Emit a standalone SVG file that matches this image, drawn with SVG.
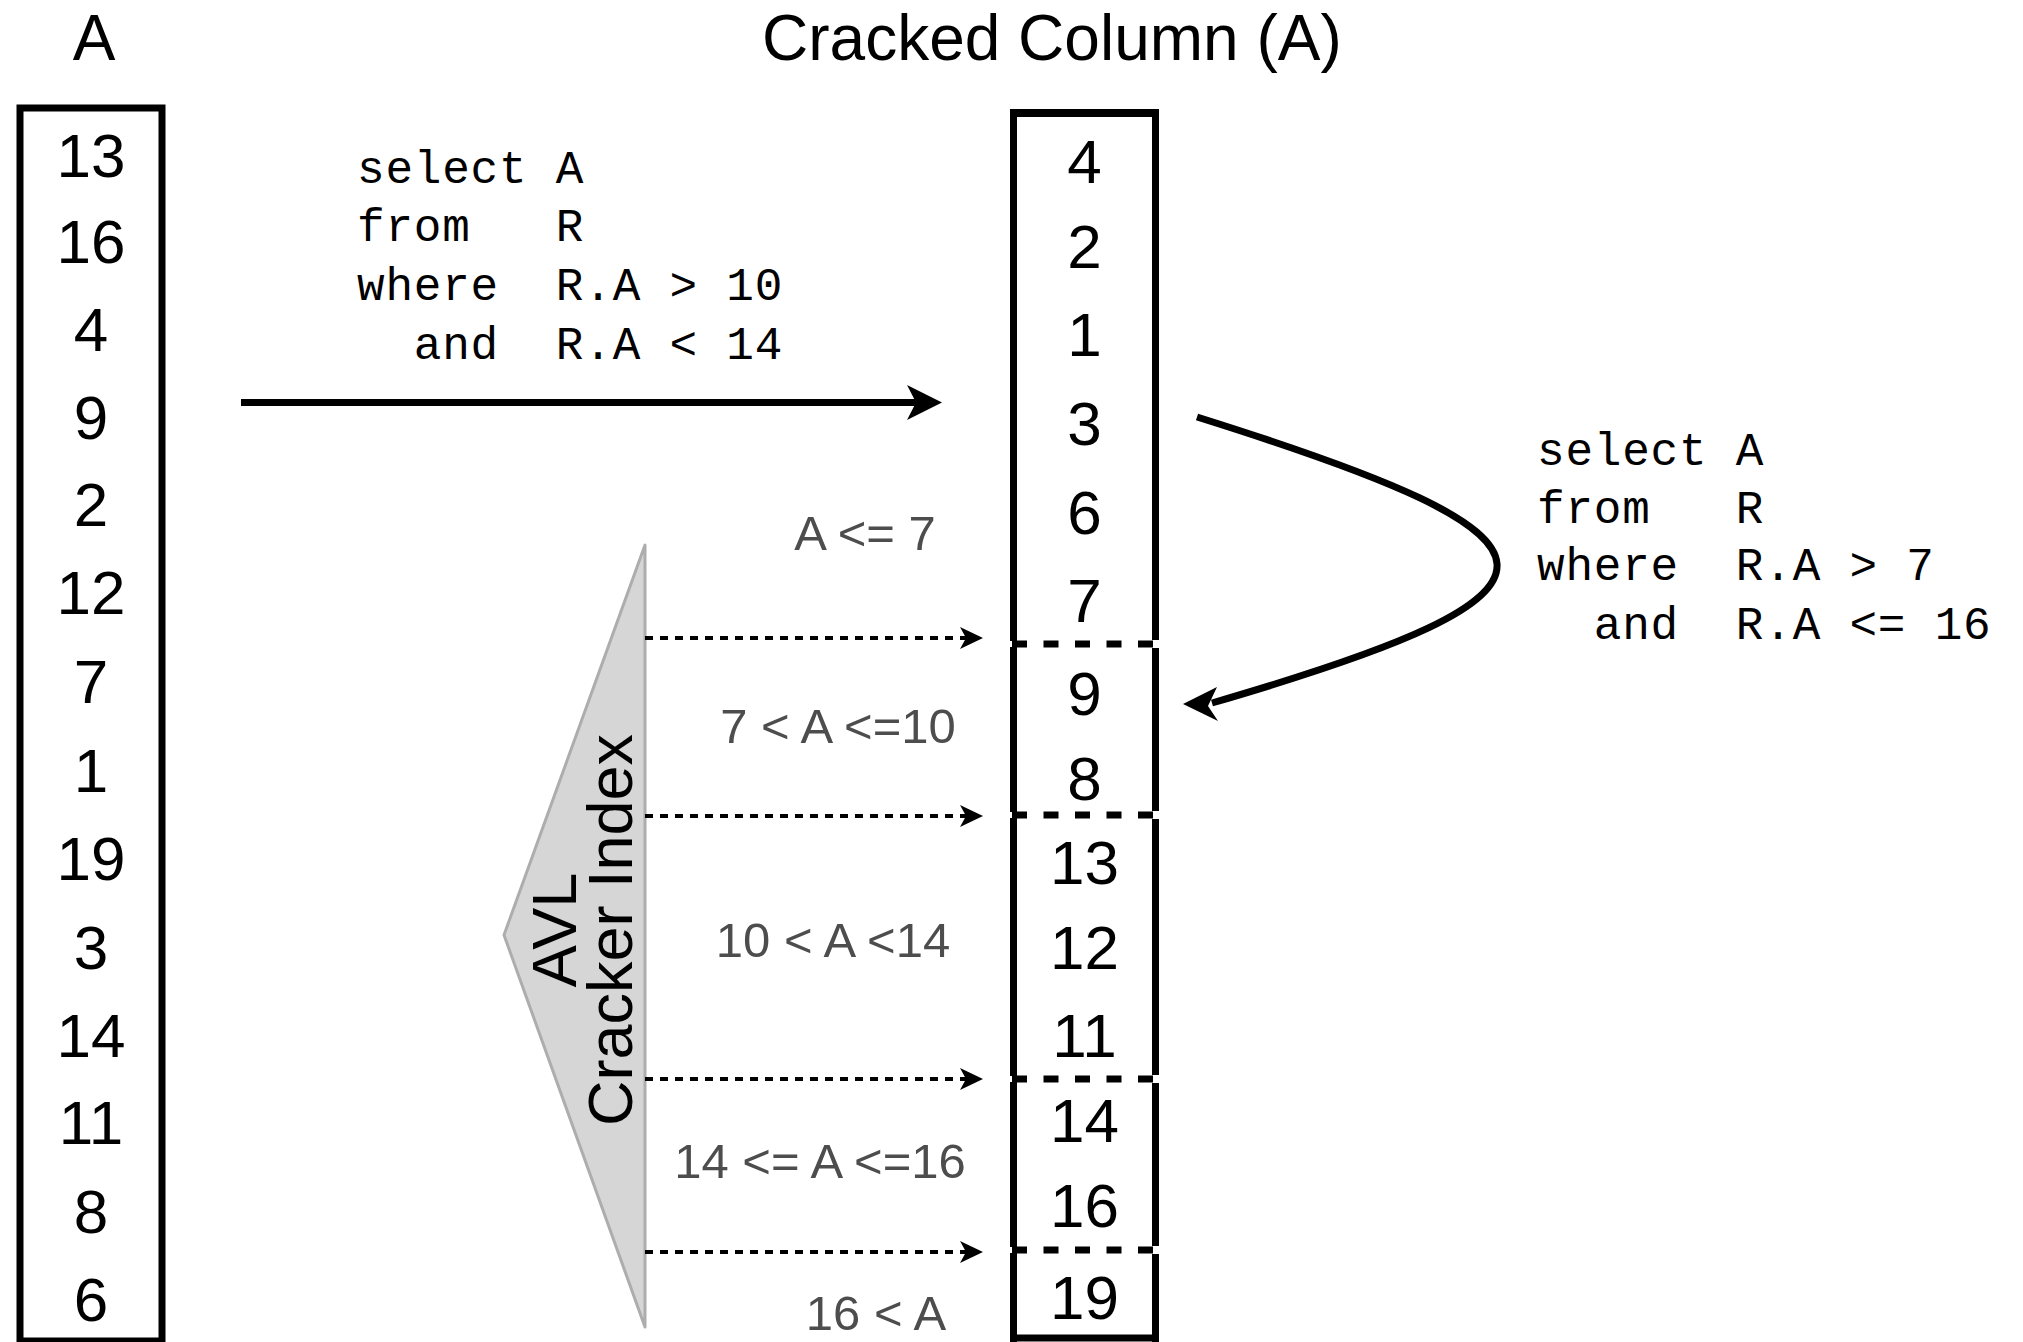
<svg xmlns="http://www.w3.org/2000/svg" width="2023" height="1342" viewBox="0 0 2023 1342">
  <style>
    .num { font-family: "Liberation Sans", Arial, sans-serif; font-size: 62px; fill: #000; text-anchor: middle; }
    .title { font-family: "Liberation Sans", Arial, sans-serif; font-size: 64px; fill: #000; }
    .range { font-family: "Liberation Sans", Arial, sans-serif; font-size: 49px; fill: #4d4d4d; text-anchor: middle; }
    .sql { font-family: "Liberation Mono", "Courier New", monospace; font-size: 46px; fill: #000; letter-spacing: 0.8px; white-space: pre; }
    .border { fill: none; stroke: #000; stroke-width: 7; }
    .crack { stroke: #000; stroke-width: 7; stroke-dasharray: 15 16.5; }
    .probe { stroke: #000; stroke-width: 4; stroke-dasharray: 8 7; }
    .idx { font-family: "Liberation Sans", Arial, sans-serif; font-size: 63px; fill: #000; text-anchor: middle; }
  </style>

  <rect width="2023" height="1342" fill="#fff"/>

  <!-- Titles -->
  <text class="title" x="94" y="60" text-anchor="middle">A</text>
  <text class="title" x="762" y="60">Cracked Column (A)</text>

  <!-- Original column A -->
  <g id="column-a">
    <rect class="border" x="20" y="108" width="142" height="1233"/>
    <text class="num" x="91" y="177">13</text>
    <text class="num" x="91" y="263">16</text>
    <text class="num" x="91" y="351">4</text>
    <text class="num" x="91" y="439">9</text>
    <text class="num" x="91" y="526">2</text>
    <text class="num" x="91" y="614">12</text>
    <text class="num" x="91" y="703">7</text>
    <text class="num" x="91" y="792">1</text>
    <text class="num" x="91" y="880">19</text>
    <text class="num" x="91" y="969">3</text>
    <text class="num" x="91" y="1057">14</text>
    <text class="num" x="91" y="1144">11</text>
    <text class="num" x="91" y="1233">8</text>
    <text class="num" x="91" y="1321">6</text>
  </g>

  <!-- Cracked column, split into pieces -->
  <g id="cracked-column">
    <line x1="1010" y1="113" x2="1159" y2="113" stroke="#000" stroke-width="8"/>
    <!-- left edge -->
    <line x1="1013.5" y1="109" x2="1013.5" y2="641" stroke="#000" stroke-width="7"/>
    <line x1="1013.5" y1="647" x2="1013.5" y2="812" stroke="#000" stroke-width="7"/>
    <line x1="1013.5" y1="818" x2="1013.5" y2="1076" stroke="#000" stroke-width="7"/>
    <line x1="1013.5" y1="1082" x2="1013.5" y2="1247" stroke="#000" stroke-width="7"/>
    <line x1="1013.5" y1="1253" x2="1013.5" y2="1342" stroke="#000" stroke-width="7"/>
    <!-- right edge -->
    <line x1="1155.5" y1="109" x2="1155.5" y2="640" stroke="#000" stroke-width="7"/>
    <line x1="1155.5" y1="648" x2="1155.5" y2="811" stroke="#000" stroke-width="7"/>
    <line x1="1155.5" y1="819" x2="1155.5" y2="1075" stroke="#000" stroke-width="7"/>
    <line x1="1155.5" y1="1083" x2="1155.5" y2="1246" stroke="#000" stroke-width="7"/>
    <line x1="1155.5" y1="1254" x2="1155.5" y2="1342" stroke="#000" stroke-width="7"/>
    <line x1="1010" y1="1338" x2="1159" y2="1338" stroke="#000" stroke-width="7"/>
    <!-- crack boundaries -->
    <line class="crack" x1="1012" y1="644" x2="1153" y2="644"/>
    <line class="crack" x1="1012" y1="815" x2="1153" y2="815"/>
    <line class="crack" x1="1012" y1="1079" x2="1153" y2="1079"/>
    <line class="crack" x1="1012" y1="1250" x2="1153" y2="1250"/>

    <text class="num" x="1084.5" y="183">4</text>
    <text class="num" x="1084.5" y="268">2</text>
    <text class="num" x="1084.5" y="356">1</text>
    <text class="num" x="1084.5" y="445">3</text>
    <text class="num" x="1084.5" y="534">6</text>
    <text class="num" x="1084.5" y="622">7</text>
    <text class="num" x="1084.5" y="715">9</text>
    <text class="num" x="1084.5" y="800">8</text>
    <text class="num" x="1084.5" y="884">13</text>
    <text class="num" x="1084.5" y="969">12</text>
    <text class="num" x="1084.5" y="1057">11</text>
    <text class="num" x="1084.5" y="1142">14</text>
    <text class="num" x="1084.5" y="1227">16</text>
    <text class="num" x="1084.5" y="1319">19</text>
  </g>

  <!-- AVL cracker index -->
  <g id="cracker-index">
    <polygon points="645,545 504,935 645,1327" fill="#d6d6d6" stroke="#adadad" stroke-width="3" stroke-linejoin="round"/>
    <g transform="translate(576,930) rotate(-90)">
      <text class="idx" x="0" y="0">AVL</text>
      <text class="idx" x="0" y="56">Cracker Index</text>
    </g>
  </g>

  <!-- Range labels -->
  <g id="ranges">
    <text class="range" x="865" y="550">A &lt;= 7</text>
    <text class="range" x="838" y="743">7 &lt; A &lt;=10</text>
    <text class="range" x="833" y="957">10 &lt; A &lt;14</text>
    <text class="range" x="820" y="1178">14 &lt;= A &lt;=16</text>
    <text class="range" x="876" y="1330">16 &lt; A</text>
  </g>

  <!-- Queries -->
  <g id="query-1">
    <text class="sql" xml:space="preserve" x="357" y="183">select A</text>
    <text class="sql" xml:space="preserve" x="357" y="241">from   R</text>
    <text class="sql" xml:space="preserve" x="357" y="300">where  R.A &gt; 10</text>
    <text class="sql" xml:space="preserve" x="357" y="359">  and  R.A &lt; 14</text>
  </g>
  <g id="query-2">
    <text class="sql" xml:space="preserve" x="1537" y="465">select A</text>
    <text class="sql" xml:space="preserve" x="1537" y="523">from   R</text>
    <text class="sql" xml:space="preserve" x="1537" y="580">where  R.A &gt; 7</text>
    <text class="sql" xml:space="preserve" x="1537" y="639">  and  R.A &lt;= 16</text>
  </g>

  <!-- Connectors -->
  <g id="connectors">
    <line x1="241" y1="402.5" x2="918" y2="402.5" stroke="#000" stroke-width="7"/>
    <path d="M942,402.5 L907,385 L916,402.5 L907,420 Z" fill="#000"/>

    <path d="M1197,417 C1589,540 1600,590 1212,703" fill="none" stroke="#000" stroke-width="7"/>
    <path d="M1183,704 L1217,687 L1208,706 L1218,721 Z" fill="#000"/>

    <line class="probe" x1="645" y1="638" x2="966" y2="638"/>
    <path d="M983,638 L960,627 L966,638 L960,649 Z" fill="#000"/>
    <line class="probe" x1="645" y1="816" x2="966" y2="816"/>
    <path d="M983,816 L960,805 L966,816 L960,827 Z" fill="#000"/>
    <line class="probe" x1="645" y1="1079" x2="966" y2="1079"/>
    <path d="M983,1079 L960,1068 L966,1079 L960,1090 Z" fill="#000"/>
    <line class="probe" x1="645" y1="1252" x2="966" y2="1252"/>
    <path d="M983,1252 L960,1241 L966,1252 L960,1263 Z" fill="#000"/>
  </g>
</svg>
